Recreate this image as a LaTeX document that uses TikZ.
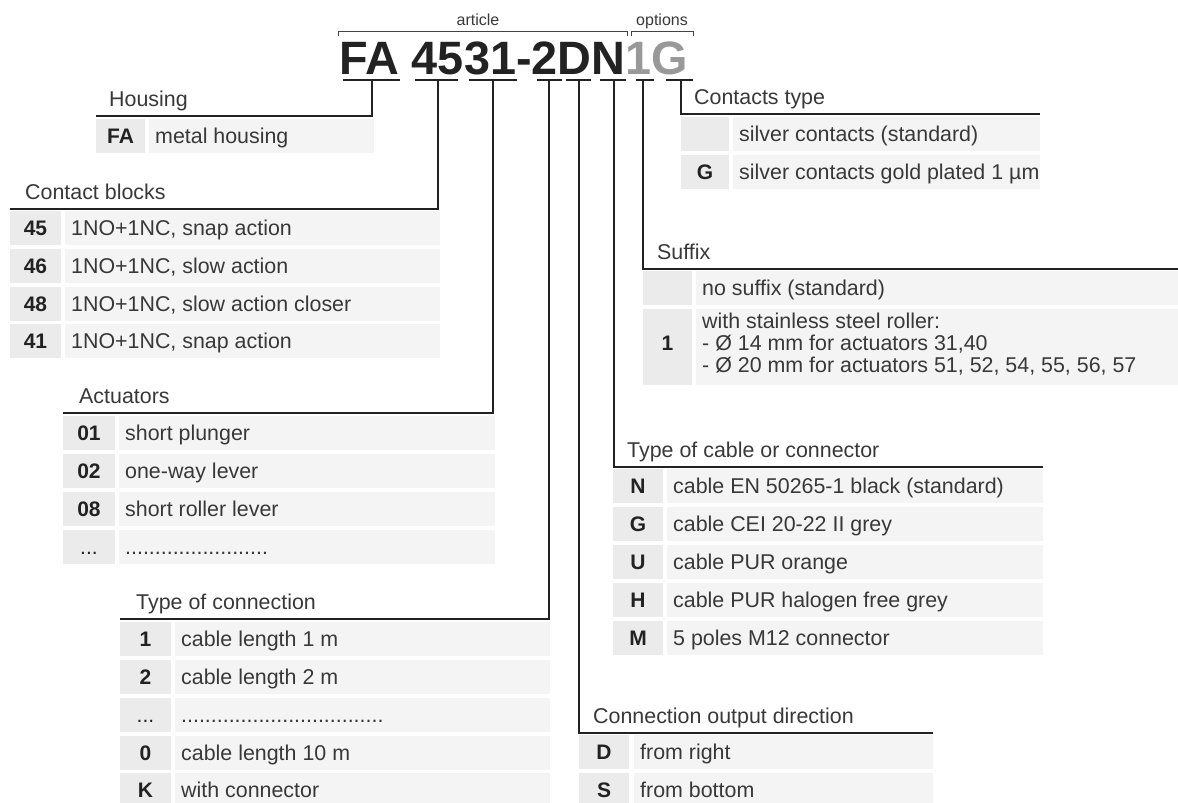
\documentclass[tikz,border=0pt]{standalone}
\usepackage{fontspec}
\setmainfont{Liberation Sans}
\definecolor{ink}{HTML}{222222}
\definecolor{txt}{HTML}{383838}
\definecolor{codebg}{HTML}{EBEBEB}
\definecolor{descbg}{HTML}{F4F4F4}
\definecolor{opt}{HTML}{999999}
\tikzset{
  conn/.style={draw=ink, line width=2pt, line join=miter},
  uline/.style={draw=ink, line width=2.6pt},
  brk/.style={draw=ink!85, line width=1pt},
  codetxt/.style={font=\fontsize{21}{25}\selectfont\bfseries, text=ink, inner sep=0pt},
  desctxt/.style={font=\fontsize{21.4}{25}\selectfont, text=txt, inner sep=0pt},
  titletxt/.style={font=\fontsize{21.4}{25}\selectfont, text=txt, inner sep=0pt, anchor=base west},
  smalltxt/.style={font=\fontsize{16}{18}\selectfont, text=txt, inner sep=0pt, anchor=base},
}
% #1 name, #2 top y, #3 code left, #4 code right, #5 desc left, #6 desc right, #7 code, #8 text
\newcommand\tabrow[8]{%
  \fill[codebg] (#3,#2) rectangle (#4,#2+34);
  \fill[descbg] (#5,#2) rectangle (#6,#2+34);
  \node[codetxt, anchor=base] (#1c) at ({(#3+#4)/2},#2+24) {#7};
  \node[desctxt, anchor=base west] (#1d) at (#5+6,#2+24) {#8};
}
\begin{document}
\begin{tikzpicture}[x=1pt,y=-1pt]
\useasboundingbox (0,0) rectangle (1178,803);

% ---- code and brackets
\node[smalltxt] (lart) at (478,25) {article};
\node[smalltxt] (lopt) at (662,25) {options};
\draw[brk] (338,36) -- (338,31) -- (627,31) -- (627,36);
\draw[brk] (631,36) -- (631,31) -- (693,31) -- (693,36);
\node[anchor=base west, inner sep=0pt, font=\fontsize{46.8}{50}\selectfont\bfseries] (code) at (339,74)
  {\textcolor{ink}{FA 4531-2DN}\textcolor{opt}{1G}};

\draw[uline] (343,80) -- (400,80);
\draw[uline] (415,80) -- (458,80);
\draw[uline] (469,80) -- (517,80);
\draw[uline] (537,80) -- (562,80);
\draw[uline] (566,80) -- (591,80);
\draw[uline] (600,80) -- (626,80);
\draw[uline] (636,80) -- (654,80);
\draw[uline] (666,80) -- (693,80);

% ---- connector coordinates
\coordinate (uFA) at (372,80);  \coordinate (cFA) at (372,116); \coordinate (eFA) at (96,116);
\coordinate (uCB) at (438,80);  \coordinate (cCB) at (438,209); \coordinate (eCB) at (10,209);
\coordinate (uAC) at (493,80);  \coordinate (cAC) at (493,413); \coordinate (eAC) at (63,413);
\coordinate (uTC) at (549,80);  \coordinate (cTC) at (549,619); \coordinate (eTC) at (120,619);
\coordinate (uOD) at (579,80);  \coordinate (cOD) at (579,733); \coordinate (eOD) at (933,733);
\coordinate (uCT) at (614,80);  \coordinate (cCT) at (614,467); \coordinate (eCT) at (1043,467);
\coordinate (uSF) at (643,80);  \coordinate (cSF) at (643,269); \coordinate (eSF) at (1178,269);
\coordinate (uKT) at (681,80);  \coordinate (cKT) at (681,114); \coordinate (eKT) at (1040,114);

\draw[conn] (uFA) -- (cFA) -- (eFA);
\draw[conn] (uCB) -- (cCB) -- (eCB);
\draw[conn] (uAC) -- (cAC) -- (eAC);
\draw[conn] (uTC) -- (cTC) -- (eTC);
\draw[conn] (uOD) -- (cOD) -- (eOD);
\draw[conn] (uCT) -- (cCT) -- (eCT);
\draw[conn] (uSF) -- (cSF) -- (eSF);
\draw[conn] (uKT) -- (cKT) -- (eKT);

% ---- Housing
\node[titletxt] (tHousing) at (109,106) {Housing};
\tabrow{fa}{119}{96}{145}{149}{374}{FA}{metal housing}

% ---- Contact blocks
\node[titletxt] (tCB) at (25,199) {Contact blocks};
\tabrow{cba}{211}{10}{61}{65}{440}{45}{1NO+1NC, snap action}
\tabrow{cbb}{249}{10}{61}{65}{440}{46}{1NO+1NC, slow action}
\tabrow{cbc}{287}{10}{61}{65}{440}{48}{1NO+1NC, slow action closer}
\tabrow{cbd}{324}{10}{61}{65}{440}{41}{1NO+1NC, snap action}

% ---- Actuators
\node[titletxt] (tAC) at (79,403) {Actuators};
\tabrow{aca}{416}{63}{115}{119}{495}{01}{short plunger}
\tabrow{acb}{454}{63}{115}{119}{495}{02}{one-way lever}
\tabrow{acc}{492}{63}{115}{119}{495}{08}{short roller lever}
\tabrow{acd}{530}{63}{115}{119}{495}{\mdseries ...}{........................}

% ---- Type of connection
\node[titletxt] (tTC) at (136,609) {Type of connection};
\tabrow{tca}{622}{120}{171}{175}{550}{1}{cable length 1 m}
\tabrow{tcb}{660}{120}{171}{175}{550}{2}{cable length 2 m}
\tabrow{tcc}{698}{120}{171}{175}{550}{\mdseries ...}{..................................}
\tabrow{tcd}{736}{120}{171}{175}{550}{0}{cable length 10 m}
\tabrow{tce}{773}{120}{171}{175}{550}{K}{with connector}

% ---- Connection output direction
\node[titletxt] (tOD) at (593,723) {Connection output direction};
\tabrow{oda}{735}{579}{629}{634}{933}{D}{from right}
\tabrow{odb}{773}{579}{629}{634}{933}{S}{from bottom}

% ---- Type of cable or connector
\node[titletxt] (tCT) at (627,457) {Type of cable or connector};
\tabrow{cta}{469}{613}{663}{667}{1043}{N}{cable EN 50265-1 black (standard)}
\tabrow{ctb}{507}{613}{663}{667}{1043}{G}{cable CEI 20-22 II grey}
\tabrow{ctc}{545}{613}{663}{667}{1043}{U}{cable PUR orange}
\tabrow{ctd}{583}{613}{663}{667}{1043}{H}{cable PUR halogen free grey}
\tabrow{cte}{621}{613}{663}{667}{1043}{M}{5 poles M12 connector}

% ---- Suffix
\node[titletxt] (tSF) at (657,259) {Suffix};
\tabrow{sfa}{271}{643}{692}{696}{1178}{}{no suffix (standard)}
\fill[codebg] (643,309) rectangle (692,385);
\fill[descbg] (696,309) rectangle (1178,385);
\node[codetxt, anchor=base] (sfbc) at (667.5,350) {1};
\node[desctxt, anchor=base west] (sfb1) at (702,328) {with stainless steel roller:};
\node[desctxt, anchor=base west] (sfb2) at (702,350) {- Ø 14 mm for actuators 31,40};
\node[desctxt, anchor=base west] (sfb3) at (702,372) {- Ø 20 mm for actuators 51, 52, 54, 55, 56, 57};

% ---- Contacts type
\node[titletxt] (tKT) at (694,104) {Contacts type};
\tabrow{kta}{117}{681}{729}{733}{1040}{}{silver contacts (standard)}
\tabrow{ktb}{155}{681}{729}{733}{1040}{G}{silver contacts gold plated 1 µm}
\end{tikzpicture}
\end{document}
